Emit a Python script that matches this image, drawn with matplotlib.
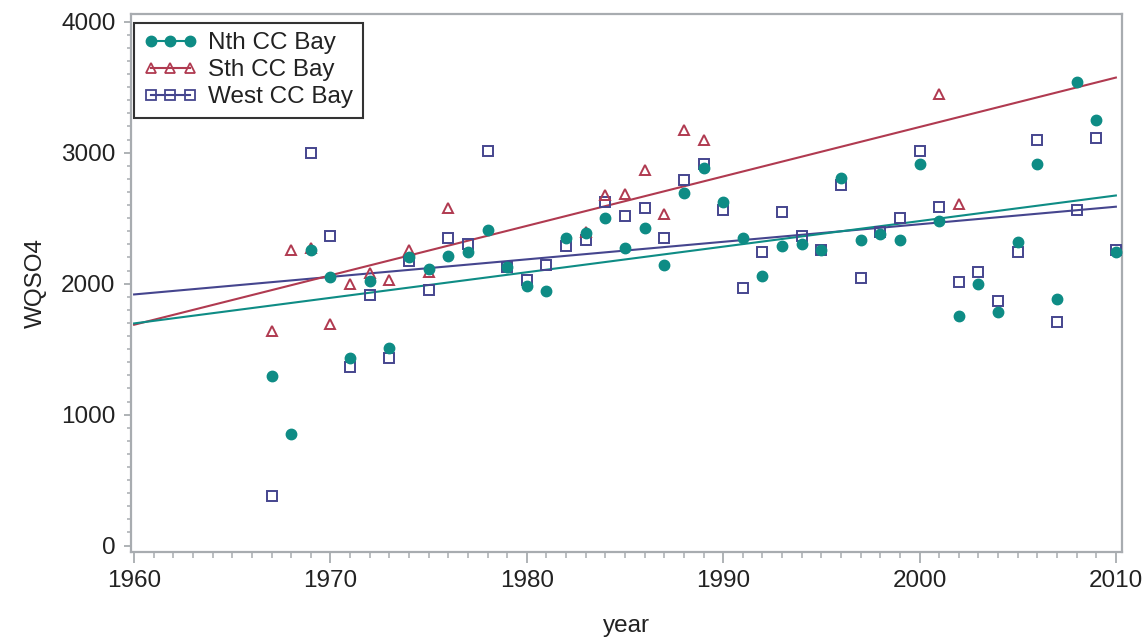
import matplotlib
matplotlib.use('Agg')
import matplotlib.pyplot as plt
from matplotlib.lines import Line2D
from matplotlib.ticker import MultipleLocator
import numpy as np

plt.rcParams['font.family'] = ['Liberation Sans', 'DejaVu Sans']

# --- data ---
nth_years = list(range(1967, 2011))
nth_vals = [1295, 855, 2260, 2050, 1435, 2020, 1510, 2200, 2110, 2210,
            2245, 2410, 2130, 1985, 1940, 2350, 2390, 2505, 2275, 2425,
            2140, 2690, 2880, 2625, 2350, 2060, 2290, 2305, 2260, 2810,
            2335, 2380, 2335, 2915, 2475, 1755, 2000, 1785, 2320, 2915,
            1880, 3540, 3250, 2240]

sth_years = [1967, 1968, 1969, 1970, 1971, 1972, 1973, 1974, 1975, 1976,
             1983, 1984, 1985, 1986, 1987, 1988, 1989, 2001, 2002]
sth_vals = [1635, 2260, 2270, 1690, 2000, 2080, 2030, 2260, 2090, 2580,
            2395, 2675, 2685, 2870, 2530, 3175, 3100, 3450, 2605]

west_years = [1967] + list(range(1969, 2011))
west_vals = [380, 3000, 2365, 1360, 1910, 1435, 2170, 1955, 2350, 2300,
             3010, 2125, 2030, 2140, 2290, 2335, 2625, 2520, 2580, 2350,
             2790, 2915, 2565, 1970, 2245, 2550, 2365, 2260, 2750, 2045,
             2395, 2505, 3010, 2585, 2015, 2090, 1865, 2245, 3100, 1710,
             2565, 3115, 2260]

series = [
    ('Nth CC Bay', nth_years, nth_vals, '#0e8c85', 'o', True),
    ('Sth CC Bay', sth_years, sth_vals, '#b03a50', '^', False),
    ('West CC Bay', west_years, west_vals, '#45458e', 's', False),
]

FS = 17.5
TXT = '#222222'
AXC = '#a8acb0'

fig = plt.figure(figsize=(11.47, 6.39), dpi=100, facecolor='white')
ax = fig.add_axes([0.114, 0.1366, 0.864, 0.8415])

xfit = np.array([1960, 2010])
# draw West first so Nth circles sit on top like the reference
for name, yrs, vals, col, mk, filled in series[::-1]:
    yrs = np.array(yrs)
    vals = np.array(vals)
    slope, icpt = np.polyfit(yrs, vals, 1)
    ax.plot(xfit, slope * xfit + icpt, color=col, linewidth=1.5, zorder=2)
    if filled:
        ax.plot(yrs, vals, linestyle='none', marker=mk, markersize=7.5,
                color=col, markeredgecolor=col, zorder=4)
    else:
        ax.plot(yrs, vals, linestyle='none', marker=mk, markersize=7,
                markerfacecolor='none', markeredgecolor=col,
                markeredgewidth=1.4, zorder=3)

handles = []
for name, yrs, vals, col, mk, filled in series:
    if filled:
        h = Line2D([], [], color=col, linewidth=1.5, marker=mk, markersize=7.5)
    else:
        h = Line2D([], [], color=col, linewidth=1.5, marker=mk, markersize=6.5,
                   markerfacecolor='none', markeredgewidth=1.3)
    handles.append((h, name))

ax.set_xlim(1959.83, 2010.3)
ax.set_ylim(-47, 4059)
ax.xaxis.set_major_locator(MultipleLocator(10))
ax.xaxis.set_minor_locator(MultipleLocator(1))
ax.yaxis.set_major_locator(MultipleLocator(1000))
ax.yaxis.set_minor_locator(MultipleLocator(100))

for sp in ax.spines.values():
    sp.set_color(AXC)
    sp.set_linewidth(1.6)
ax.tick_params(which='major', direction='out', width=1.3, color=AXC,
               labelsize=FS, labelcolor=TXT)
ax.tick_params(axis='x', which='major', length=8, pad=5)
ax.tick_params(axis='y', which='major', length=5, pad=6)
ax.tick_params(axis='x', which='minor', direction='out', length=4.5,
               width=1.1, color=AXC)
ax.tick_params(axis='y', which='minor', direction='out', length=3,
               width=1.1, color=AXC)

ax.set_xlabel('year', fontsize=FS, color=TXT, labelpad=17)
ax.set_ylabel('WQSO4', fontsize=FS, color=TXT, labelpad=10)

leg = ax.legend([h for h, n in handles], [n for h, n in handles],
                loc='upper left', bbox_to_anchor=(0.0033, 0.984),
                borderaxespad=0, numpoints=3, handlelength=2.2,
                handletextpad=0.45, fontsize=FS, frameon=True, fancybox=False,
                edgecolor='black', labelspacing=0.2, borderpad=0.4)
leg.get_frame().set_linewidth(1.5)
for t in leg.get_texts():
    t.set_color(TXT)

plt.savefig('out.png', dpi=100, facecolor='white')
plt.close(fig)
